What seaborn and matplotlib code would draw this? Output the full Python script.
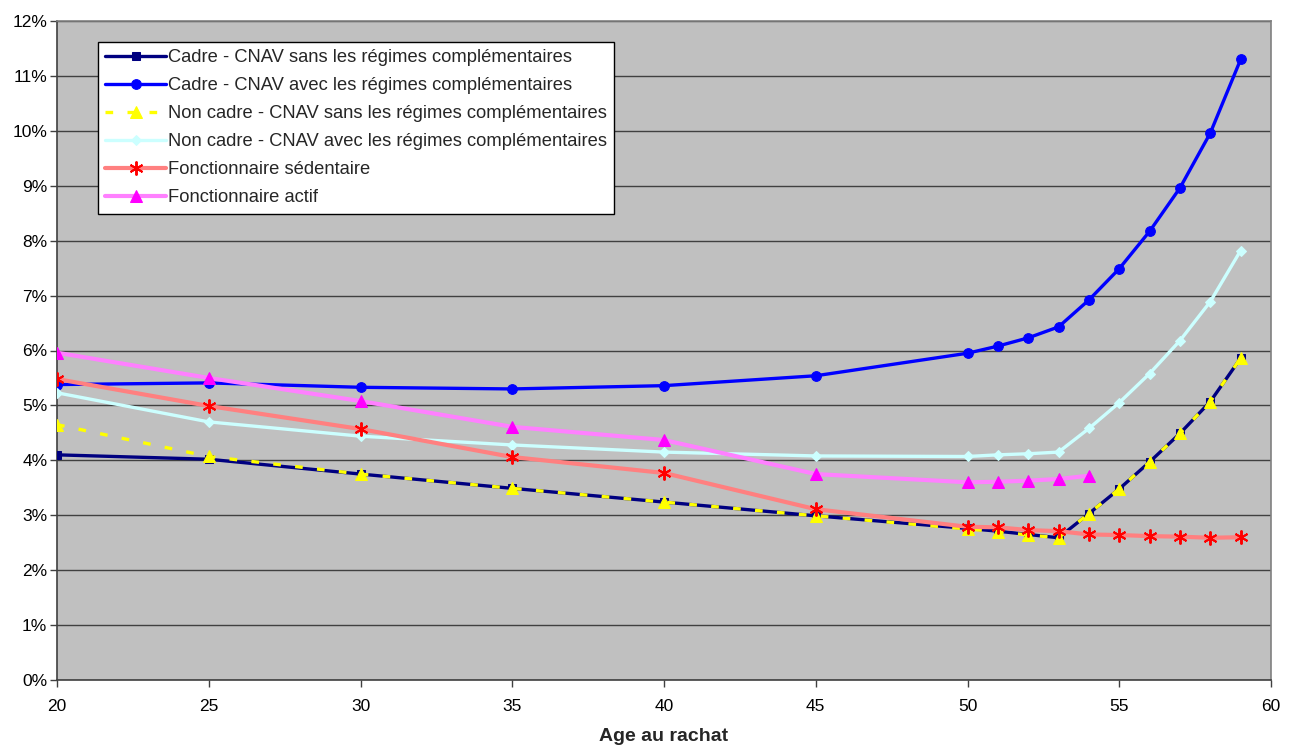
import matplotlib
matplotlib.use("Agg")
import matplotlib.pyplot as plt
import matplotlib.ticker as mticker
import seaborn as sns
import pandas as pd

ages = [20, 25, 30, 35, 40, 45, 50, 51, 52, 53, 54, 55, 56, 57, 58, 59]
ages_actif = [20, 25, 30, 35, 40, 45, 50, 51, 52, 53, 54]

cadre_sans = [4.10, 4.02, 3.75, 3.49, 3.24, 2.99, 2.76, 2.71, 2.65, 2.59,
              3.03, 3.48, 3.97, 4.49, 5.07, 5.86]
cadre_avec = [5.38, 5.41, 5.33, 5.30, 5.36, 5.54, 5.95, 6.08, 6.23, 6.43,
              6.92, 7.49, 8.17, 8.96, 9.96, 11.30]
noncadre_sans = [4.65, 4.07, 3.75, 3.49, 3.24, 2.99, 2.75, 2.70, 2.64, 2.59,
                 3.03, 3.48, 3.97, 4.49, 5.07, 5.86]
noncadre_avec = [5.23, 4.70, 4.44, 4.28, 4.15, 4.08, 4.07, 4.10, 4.12, 4.15,
                 4.58, 5.05, 5.58, 6.18, 6.89, 7.82]
fonct_sedentaire = [5.48, 4.99, 4.57, 4.06, 3.77, 3.11, 2.79, 2.78, 2.73, 2.71,
                    2.65, 2.64, 2.62, 2.61, 2.59, 2.60]
fonct_actif = [5.96, 5.50, 5.08, 4.61, 4.37, 3.75, 3.60, 3.61, 3.63, 3.66, 3.72]

labels = [
    "Cadre - CNAV sans les régimes complémentaires",
    "Cadre - CNAV avec les régimes complémentaires",
    "Non cadre - CNAV sans les régimes complémentaires",
    "Non cadre - CNAV avec les régimes complémentaires",
    "Fonctionnaire sédentaire",
    "Fonctionnaire actif",
]

sns.set_theme(style="white")
plt.rcParams["font.family"] = ["Liberation Sans", "DejaVu Sans"]

fig = plt.figure(figsize=(12.93, 7.47), dpi=100)
ax = fig.add_axes([57 / 1293, 1 - 680 / 747, (1271 - 57) / 1293, (680 - 21) / 747])
ax.set_facecolor("#C0C0C0")

series = [
    (ages, cadre_sans, dict(color="#000080", lw=2.4, linestyle="-", marker="s",
                            markersize=6, markerfacecolor="#000080", markeredgecolor="#000080")),
    (ages, cadre_avec, dict(color="#0000FF", lw=2.4, linestyle="-", marker="o",
                            markersize=7, markerfacecolor="#0000FF", markeredgecolor="#0000FF")),
    (ages, noncadre_sans, dict(color="#FFFF00", lw=2.4, linestyle=(0, (2.3, 4.3)), marker="^",
                               markersize=8, markerfacecolor="#FFFF00", markeredgecolor="#FFFF00")),
    (ages, noncadre_avec, dict(color="#CCFFFF", lw=2.4, linestyle="-", marker="D",
                               markersize=5, markerfacecolor="#CCFFFF", markeredgecolor="#CCFFFF")),
    (ages, fonct_sedentaire, dict(color="#FF8080", lw=3.0, linestyle="-", marker=(6, 2, 0),
                                  markersize=10, markerfacecolor="#FF0000", markeredgecolor="#FF0000",
                                  markeredgewidth=1.4)),
    (ages_actif, fonct_actif, dict(color="#FF80FF", lw=3.0, linestyle="-", marker="^",
                                   markersize=8, markerfacecolor="#FF00FF", markeredgecolor="#FF00FF")),
]

for i, ((x, y, st), lab) in enumerate(zip(series, labels)):
    df = pd.DataFrame({"x": x, "y": y})
    sns.lineplot(data=df, x="x", y="y", ax=ax, label=lab, zorder=3 + i, **st)

ax.set_xlim(20, 60)
ax.set_ylim(0, 12)
ax.set_xticks(range(20, 61, 5))
ax.set_yticks(range(0, 13))
ax.yaxis.set_major_formatter(mticker.FuncFormatter(lambda v, p: f"{int(v)}%"))
ax.grid(axis="y", color="#404040", lw=1.0)
ax.grid(axis="x", visible=False)
ax.set_axisbelow(True)

for side in ["top", "right"]:
    ax.spines[side].set_color("#808080")
    ax.spines[side].set_linewidth(1.2)
for side in ["left", "bottom"]:
    ax.spines[side].set_color("#404040")
    ax.spines[side].set_linewidth(1.2)

ax.tick_params(axis="both", which="major", direction="out", length=5, width=1,
               color="#404040", labelsize=12.5, labelcolor="black", left=True, bottom=True)
ax.tick_params(axis="x", pad=9)
ax.tick_params(axis="y", pad=2)
ax.set_xlabel("Age au rachat", fontsize=14, fontweight="bold", labelpad=10)
ax.set_ylabel("")

leg = ax.legend(loc="upper left", bbox_to_anchor=((98 - 57) / 1214, (680 - 42) / 659),
                frameon=True, fancybox=False, edgecolor="black", facecolor="white",
                framealpha=1, fontsize=13.2, handlelength=3.3, handletextpad=0.12,
                borderpad=0.4, labelspacing=0.6, borderaxespad=0)
leg.get_frame().set_linewidth(1.0)
leg.set_zorder(20)

fig.savefig("out.png", dpi=100, facecolor="white")
